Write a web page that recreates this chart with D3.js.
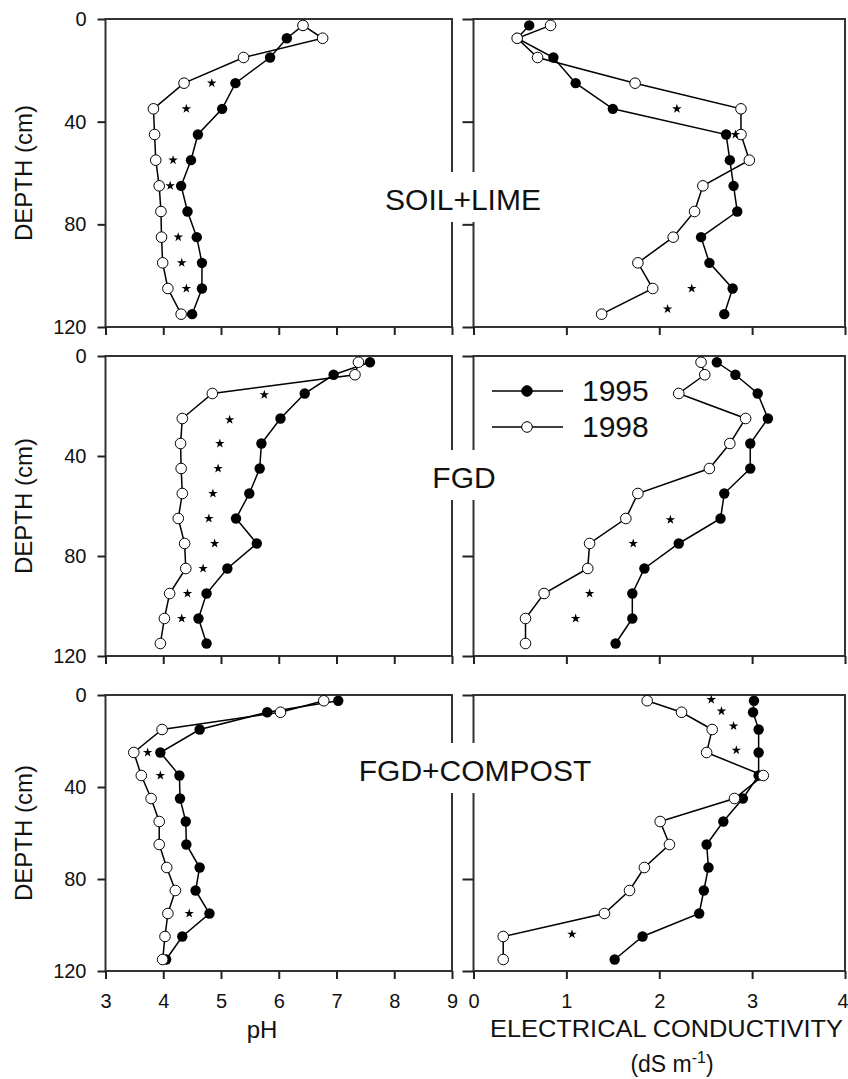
<!DOCTYPE html>
<html>
<head>
<meta charset="utf-8">
<script src="https://cdnjs.cloudflare.com/ajax/libs/d3/7.8.5/d3.min.js"></script>
<style>
  body { margin: 0; background: #fff; }
  text { font-family: "Liberation Sans", Arial, sans-serif; fill: #111; }
</style>
</head>
<body>
<div id="chart"></div>
<script>
// sampling depths (cm), same for every profile
var depths = [2.5, 7.5, 15, 25, 35, 45, 55, 65, 75, 85, 95, 105, 115];

// pH profiles
var phLime95    = [6.42, 6.14, 5.85, 5.25, 5.02, 4.60, 4.48, 4.31, 4.42, 4.58, 4.67, 4.67, 4.50];
var phLime98    = [6.42, 6.76, 5.39, 4.36, 3.83, 3.85, 3.87, 3.93, 3.96, 3.97, 3.99, 4.08, 4.31];
var phFgd95     = [7.58, 6.95, 6.45, 6.03, 5.70, 5.67, 5.49, 5.26, 5.62, 5.11, 4.75, 4.61, 4.75];
var phFgd98     = [7.38, 7.32, 4.85, 4.33, 4.30, 4.31, 4.33, 4.26, 4.37, 4.39, 4.11, 4.02, 3.95];
var phCompost95 = [7.03, 5.80, 4.63, 3.95, 4.28, 4.29, 4.39, 4.40, 4.63, 4.56, 4.80, 4.33, 4.05];
var phCompost98 = [6.78, 6.03, 3.98, 3.49, 3.62, 3.79, 3.93, 3.93, 4.06, 4.21, 4.08, 4.03, 3.99];

// electrical conductivity profiles (dS m-1)
var ecLime95    = [0.60, 0.47, 0.86, 1.10, 1.50, 2.72, 2.76, 2.80, 2.84, 2.45, 2.54, 2.79, 2.70];
var ecLime98    = [0.83, 0.47, 0.69, 1.74, 2.88, 2.88, 2.97, 2.47, 2.38, 2.15, 1.77, 1.93, 1.38];
var ecFgd95     = [2.62, 2.82, 3.06, 3.17, 2.98, 2.98, 2.70, 2.66, 2.21, 1.84, 1.71, 1.71, 1.53];
var ecFgd98     = [2.45, 2.49, 2.21, 2.93, 2.76, 2.54, 1.77, 1.64, 1.25, 1.23, 0.76, 0.56, 0.56];
var ecCompost95 = [3.02, 3.01, 3.07, 3.07, 3.07, 2.90, 2.69, 2.51, 2.53, 2.48, 2.43, 1.82, 1.52];
var ecCompost98 = [1.87, 2.24, 2.57, 2.51, 3.12, 2.81, 2.01, 2.11, 1.84, 1.68, 1.41, 0.32, 0.32];

// significance stars [depth, value]
var starsPhLime    = [[25, 4.84], [35, 4.40], [55, 4.17], [65, 4.12], [85, 4.26], [95, 4.32], [105, 4.40]];
var starsPhFgd     = [[15.5, 5.75], [25.5, 5.15], [35, 4.98], [45, 4.95], [55, 4.86], [65, 4.79], [75, 4.89], [85, 4.69], [95, 4.42], [105, 4.32]];
var starsPhCompost = [[25, 3.73], [35, 3.95], [95, 4.45]];
var starsEcLime    = [[35, 2.19], [45, 2.82], [105, 2.35], [113, 2.09]];
var starsEcFgd     = [[65.5, 2.12], [75, 1.72], [95, 1.25], [105, 1.10]];
var starsEcCompost = [[2, 2.56], [7, 2.67], [13.5, 2.80], [24, 2.83], [104, 1.06]];

var treatments = ["SOIL+LIME", "FGD", "FGD+COMPOST"];
var years = ["1995", "1998"];
var depthTicks = [0, 40, 80, 120];
var phTicks = [3, 4, 5, 6, 7, 8, 9];
var ecTicks = [0, 1, 2, 3, 4];

var width = 848, height = 1079;

var svg = d3.select("#chart").append("svg")
  .attr("width", width)
  .attr("height", height);

// row geometry (rows are not all equally tall)
var rows = [
  { top: 19,  bottom: 327, label: [463, 210] },
  { top: 356, bottom: 656, label: [464, 488] },
  { top: 695, bottom: 971, label: [475, 781] }
];

var xPh = d3.scaleLinear().domain([3, 9]).range([105.5, 452]);
var xEc = d3.scaleLinear().domain([0, 4]).range([473.5, 845]);

var profiles = [
  { ph: [phLime95, phLime98], ec: [ecLime95, ecLime98], sPh: starsPhLime, sEc: starsEcLime },
  { ph: [phFgd95, phFgd98], ec: [ecFgd95, ecFgd98], sPh: starsPhFgd, sEc: starsEcFgd },
  { ph: [phCompost95, phCompost98], ec: [ecCompost95, ecCompost98], sPh: starsPhCompost, sEc: starsEcCompost }
];

var star = d3.symbol().type(d3.symbolStar).size(28);

function drawPanel(g, x, y, series, stars, isLeft, isBottom, ticks) {
  var r = x.range();

  g.append("rect")
    .attr("x", r[0]).attr("y", y.range()[0])
    .attr("width", r[1] - r[0]).attr("height", y.range()[1] - y.range()[0])
    .attr("fill", "none").attr("stroke", "#333").attr("stroke-width", 2);

  var ya = g.append("g")
    .attr("transform", "translate(" + r[0] + ",0)")
    .call(d3.axisLeft(y).tickValues(depthTicks).tickSize(isLeft ? 8 : 11).tickSizeOuter(0).tickPadding(11)
      .tickFormat(isLeft ? d3.format("d") : ""));
  ya.select(".domain").remove();
  ya.selectAll("line").attr("stroke", "#222").attr("stroke-width", 2);
  ya.selectAll("text").style("font-size", "20px");

  var xa = g.append("g")
    .attr("transform", "translate(0," + y.range()[1] + ")")
    .call(d3.axisBottom(x).tickValues(ticks).tickSize(8).tickSizeOuter(0).tickPadding(15)
      .tickFormat(isBottom ? d3.format("d") : ""));
  xa.select(".domain").remove();
  xa.selectAll("line").attr("stroke", "#222").attr("stroke-width", 2);
  xa.selectAll("text").style("font-size", "20px");
  // the last label sits on the page edge; keep it inside
  if (!isLeft) {
    xa.selectAll(".tick:last-of-type text").attr("text-anchor", "end").attr("dx", 3);
  }

  var line = d3.line()
    .x(function(d) { return x(d[1]); })
    .y(function(d) { return y(d[0]); });

  var pts = series.map(function(vals) {
    return depths.map(function(dep, i) { return [dep, vals[i]]; });
  });

  // 1998 drawn after 1995 so the open circles sit on top
  [0, 1].forEach(function(k) {
    g.append("path").datum(pts[k])
      .attr("d", line)
      .attr("fill", "none").attr("stroke", "#000").attr("stroke-width", 1.5);
  });

  g.selectAll(null).data(pts[0]).enter().append("circle")
    .attr("cx", function(d) { return x(d[1]); })
    .attr("cy", function(d) { return y(d[0]); })
    .attr("r", 5.2).attr("fill", "#000");

  g.selectAll(null).data(pts[1]).enter().append("circle")
    .attr("cx", function(d) { return x(d[1]); })
    .attr("cy", function(d) { return y(d[0]); })
    .attr("r", 5.3).attr("fill", "#fff").attr("stroke", "#000").attr("stroke-width", 1);

  g.selectAll(null).data(stars).enter().append("path")
    .attr("d", star)
    .attr("transform", function(d) { return "translate(" + x(d[1]) + "," + y(d[0]) + ")"; })
    .attr("fill", "#000");
}

rows.forEach(function(row, i) {
  var y = d3.scaleLinear().domain([0, 120]).range([row.top, row.bottom]);
  var g = svg.append("g");
  var bottom = i === rows.length - 1;
  drawPanel(g, xPh, y, profiles[i].ph, profiles[i].sPh, true, bottom, phTicks);
  drawPanel(g, xEc, y, profiles[i].ec, profiles[i].sEc, false, bottom, ecTicks);

  svg.append("text")
    .attr("transform", "translate(32," + (row.top + row.bottom) / 2 + ") rotate(-90)")
    .attr("text-anchor", "middle")
    .style("font-size", "24px")
    .text("DEPTH (cm)");
});

// treatment labels with a white box that breaks the panel borders
rows.forEach(function(row, i) {
  var lg = svg.append("g");
  var bg = lg.append("rect").attr("fill", "#fff");
  var t = lg.append("text")
    .attr("x", row.label[0]).attr("y", row.label[1])
    .attr("text-anchor", "middle")
    .style("font-size", "30px")
    .text(treatments[i]);
  var bb = t.node().getBBox();
  bg.attr("x", bb.x - 3).attr("y", row.label[1] - 38)
    .attr("width", bb.width + 6).attr("height", 50);
});

// legend
var legY = [391, 427];
years.forEach(function(yr, k) {
  svg.append("line")
    .attr("x1", 492).attr("x2", 563).attr("y1", legY[k]).attr("y2", legY[k])
    .attr("stroke", "#000").attr("stroke-width", 1.5);
  svg.append("circle")
    .attr("cx", 527).attr("cy", legY[k]).attr("r", 5.3)
    .attr("fill", k === 0 ? "#000" : "#fff").attr("stroke", "#000").attr("stroke-width", 1);
  svg.append("text")
    .attr("x", 582).attr("y", legY[k] + 10)
    .style("font-size", "30px")
    .text(yr);
});

// axis titles
svg.append("text")
  .attr("x", 262).attr("y", 1038)
  .attr("text-anchor", "middle")
  .style("font-size", "24px")
  .text("pH");

svg.append("text")
  .attr("x", 490).attr("y", 1037)
  .attr("textLength", 353).attr("lengthAdjust", "spacingAndGlyphs")
  .style("font-size", "23px")
  .text("ELECTRICAL CONDUCTIVITY");

var unit = svg.append("text")
  .attr("x", 672).attr("y", 1072)
  .attr("text-anchor", "middle")
  .style("font-size", "23px");
unit.append("tspan").text("(dS m");
unit.append("tspan").attr("dy", -9).style("font-size", "16px").text("-1");
unit.append("tspan").attr("dy", 9).text(")");
</script>
</body>
</html>
